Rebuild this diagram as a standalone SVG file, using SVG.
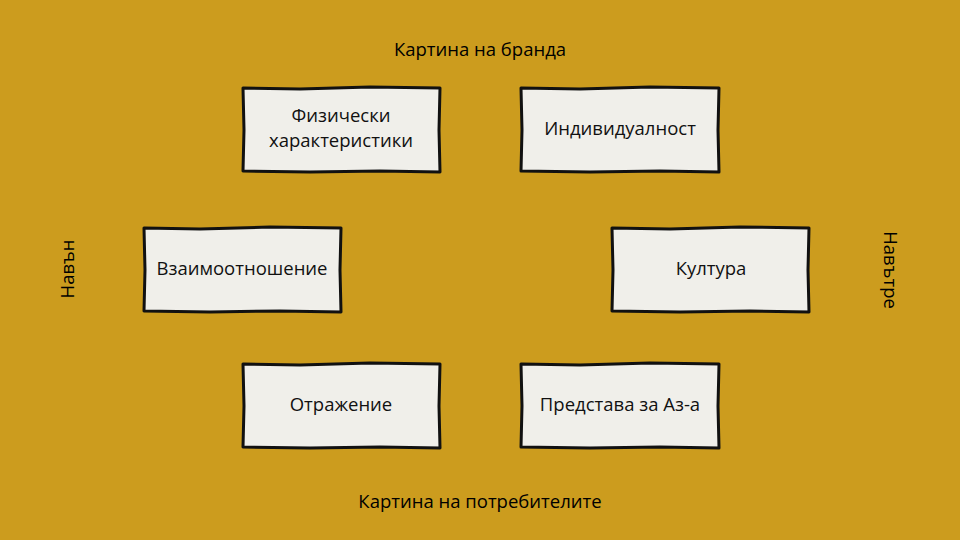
<svg xmlns="http://www.w3.org/2000/svg" width="960" height="540" viewBox="0 0 960 540">
<style>
.box{fill:#F0EFEA;stroke:#111;stroke-width:3;stroke-linejoin:round}
.t{font-family:"Open Sans","Liberation Sans",sans-serif;font-size:18.5px;fill:#111;text-anchor:middle}
.lbl{font-family:"Open Sans","Liberation Sans",sans-serif;font-size:18.5px;fill:#000;text-anchor:middle}
</style>
<rect x="0" y="0" width="960" height="540" fill="#CC9C1E"/>
<text class="lbl" x="480" y="56">Картина на бранда</text>
<text class="lbl" x="480" y="508">Картина на потребителите</text>
<text class="lbl" transform="translate(74,269) rotate(-90)">Навън</text>
<text class="lbl" transform="translate(884,270) rotate(90)">Навътре</text>
<g id="n1">
<path class="box" d="M243,88 L300,89 L370,87 L440,88 L439,130 L440,172 L380,171 L310,172 L243,171 L244,130 Z"/>
<text class="t" x="341" y="122">Физически</text>
<text class="t" x="341" y="147">характеристики</text>
</g>
<g id="n2">
<path class="box" d="M521,88 L580,89 L650,87 L719,88 L718,130 L719,172 L660,171 L590,172 L521,171 L522,130 Z"/>
<text class="t" x="620" y="135">Индивидуалност</text>
</g>
<g id="n3">
<path class="box" d="M144,228 L200,229 L270,227 L341,228 L340,270 L341,312 L280,311 L210,312 L144,311 L145,270 Z"/>
<text class="t" x="242" y="275">Взаимоотношение</text>
</g>
<g id="n4">
<path class="box" d="M612,228 L670,229 L740,227 L809,228 L808,270 L809,312 L750,311 L680,312 L612,311 L613,270 Z"/>
<text class="t" x="711" y="275">Култура</text>
</g>
<g id="n5">
<path class="box" d="M243,364 L300,365 L370,363 L440,364 L439,406 L440,448 L380,447 L310,448 L243,447 L244,406 Z"/>
<text class="t" x="341" y="411">Отражение</text>
</g>
<g id="n6">
<path class="box" d="M521,364 L580,365 L650,363 L719,364 L718,406 L719,448 L660,447 L590,448 L521,447 L522,406 Z"/>
<text class="t" x="620" y="411">Представа за Аз-а</text>
</g>
<g id="connectors"></g>
</svg>
